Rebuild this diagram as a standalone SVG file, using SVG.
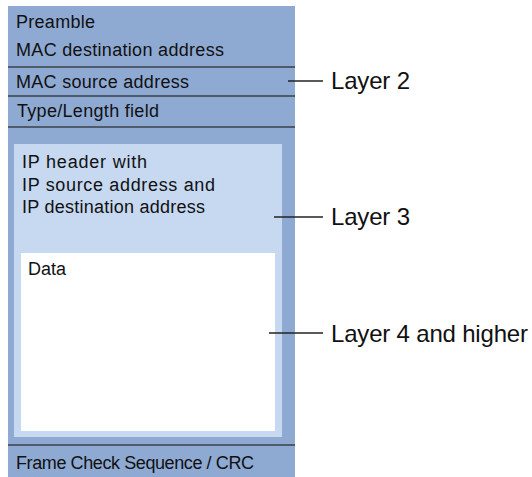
<svg xmlns="http://www.w3.org/2000/svg" width="532" height="477" viewBox="0 0 532 477">
<style>
text{font-family:"Liberation Sans",Arial,sans-serif;fill:#111}
.f{font-size:18px}
.l{font-size:24px}
.sep{stroke:#3a3f48;stroke-width:1.3}
.con{stroke:#222;stroke-width:1.3}
</style>
<rect width="532" height="477" fill="#fff"/>
<g id="frame">
<rect x="8" y="6" width="287" height="471" fill="#8eaad3"/>
<line class="sep" x1="8" y1="67" x2="295" y2="67"/>
<line class="sep" x1="8" y1="96" x2="295" y2="96"/>
<line class="sep" x1="8" y1="127" x2="295" y2="127"/>
<line class="sep" x1="8" y1="445" x2="295" y2="445"/>
<text class="f" x="16" y="28" textLength="79">Preamble</text>
<text class="f" x="16" y="56" textLength="208">MAC destination address</text>
<text class="f" x="16" y="88" textLength="173">MAC source address</text>
<text class="f" x="17" y="117" textLength="142">Type/Length field</text>
<text class="f" x="16" y="469" textLength="238">Frame Check Sequence / CRC</text>
</g>
<g id="ip">
<rect x="14" y="144" width="268" height="293" fill="#c6d9f1"/>
<text class="f" x="22" y="168" textLength="125">IP header with</text>
<text class="f" x="22" y="191" textLength="193">IP source address and</text>
<text class="f" x="22" y="213" textLength="183">IP destination address</text>
</g>
<g id="data">
<rect x="21" y="253" width="254" height="178" fill="#fff"/>
<text class="f" x="28" y="275" textLength="38">Data</text>
</g>
<g id="connectors">
<line class="con" x1="288" y1="81" x2="323" y2="81"/>
<line class="con" x1="274" y1="217" x2="323" y2="217"/>
<line class="con" x1="269" y1="333" x2="323" y2="333"/>
</g>
<g id="labels">
<text class="l" x="331" y="89" textLength="79">Layer 2</text>
<text class="l" x="331" y="225" textLength="79">Layer 3</text>
<text class="l" x="331" y="342" textLength="197">Layer 4 and higher</text>
</g>
</svg>
